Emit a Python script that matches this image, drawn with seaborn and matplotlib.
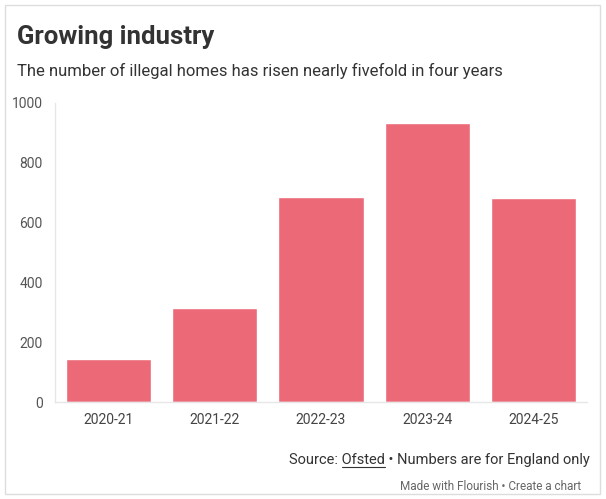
import matplotlib
matplotlib.use("Agg")
import matplotlib.pyplot as plt
import seaborn as sns
import pandas as pd
from matplotlib.patches import Rectangle
from matplotlib.lines import Line2D

# Data
years = ["2020-21", "2021-22", "2022-23", "2023-24", "2024-25"]
homes = [144, 315, 687, 932, 681]
yticks = [0, 200, 400, 600, 800, 1000]

title = "Growing industry"
subtitle = "The number of illegal homes has risen nearly fivefold in four years"
source_pre = "Source: "
source_link = "Ofsted"
source_post = " \u2022 Numbers are for England only"
footer = "Made with Flourish \u2022 Create a chart"

sns.set_theme(style="white")
plt.rcParams["font.family"] = ["Roboto", "DejaVu Sans"]

W, H = 606, 499
fig = plt.figure(figsize=(W / 100, H / 100), dpi=100)

# card border
fig.patches.append(Rectangle((5 / W, 5 / H), 595 / W, 489 / H, transform=fig.transFigure,
                             fill=False, edgecolor="#dddddd", linewidth=1))

ax = fig.add_axes([55 / W, 1 - 402 / H, 532 / W, 299 / H])
df = pd.DataFrame({"year": years, "homes": homes})
sns.barplot(data=df, x="year", y="homes", color="#ec6a78", saturation=1, width=0.8, ax=ax)

ax.set_xlim(-0.5, len(years) - 0.5)
ax.set_ylim(0, 1000)
ax.set_yticks(yticks)
ax.set_xlabel("")
ax.set_ylabel("")
for s in ["top", "right"]:
    ax.spines[s].set_visible(False)
for s in ["left", "bottom"]:
    ax.spines[s].set_color("#e6e6e6")
    ax.spines[s].set_linewidth(1)
ax.tick_params(axis="y", length=7, width=1, color="#e6e6e6", labelsize=10, labelcolor="#555555", pad=2)
ax.tick_params(axis="x", length=4, width=1, color="#e6e6e6", labelsize=10, labelcolor="#444444", pad=4)

fig.text(17 / W, 1 - 44 / H, title, fontsize=18.5, fontweight="bold", color="#333333")
fig.text(17 / W, 1 - 76 / H, subtitle, fontsize=12, color="#333333")

# source line with underlined link
fs = 10.5
r = fig.canvas.get_renderer()
full = source_pre + source_link + source_post
t = fig.text(590 / W, 1 - 464 / H, full, fontsize=fs, color="#333333", ha="right")
bb = t.get_window_extent(r)
tmp1 = fig.text(0, 0, source_pre.rstrip() + "\u00a0", fontsize=fs)
tmp2 = fig.text(0, 0, source_pre + source_link, fontsize=fs)
w1 = tmp1.get_window_extent(r).width
w2 = tmp2.get_window_extent(r).width
tmp1.remove()
tmp2.remove()
x0 = (bb.x0 + w1) / W
x1 = (bb.x0 + w2) / W
yline = 1 - 467 / H
fig.add_artist(Line2D([x0, x1], [yline, yline], transform=fig.transFigure, color="#333333", linewidth=0.8))

fig.text(581 / W, 1 - 490 / H, footer, fontsize=8.5, color="#666666", ha="right")

fig.savefig("out.png", dpi=100)
